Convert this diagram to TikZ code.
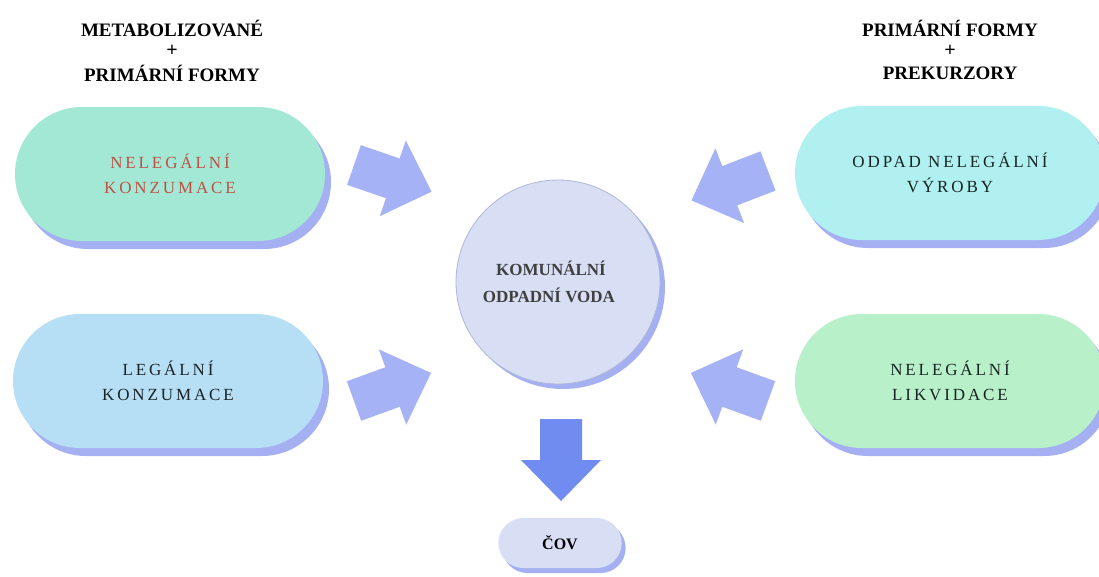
\documentclass[tikz,border=0pt]{standalone}
\usepackage{fontspec}
\setmainfont{Liberation Serif}
\usetikzlibrary{shapes.misc,shadows}
\definecolor{arrowcol}{RGB}{165,178,245}
\definecolor{downcol}{RGB}{112,140,240}
\definecolor{shadowcol}{RGB}{165,176,242}
\definecolor{pillA}{RGB}{163,232,212}
\definecolor{pillB}{RGB}{176,240,240}
\definecolor{pillC}{RGB}{182,222,245}
\definecolor{pillD}{RGB}{184,240,202}
\definecolor{circfill}{RGB}{216,223,245}
\definecolor{circline}{RGB}{175,182,215}
\definecolor{redtext}{RGB}{190,80,70}
\definecolor{darktext}{RGB}{25,35,35}
\definecolor{graytext}{RGB}{64,64,64}
\tikzset{
  pill/.style={rounded rectangle, minimum width=310pt, minimum height=134pt,
    align=center, inner sep=0pt,
    font=\fontsize{17}{25}\selectfont\addfontfeature{LetterSpace=17},
    drop shadow={shadow xshift=6pt, shadow yshift=-8pt, fill=shadowcol, opacity=1}},
  header/.style={font=\bfseries\fontsize{19}{20}\selectfont, text=black, inner sep=0pt},
  plus/.style={font=\bfseries\fontsize{20}{21}\selectfont, text=black, inner sep=0pt},
  blockarrow/.pic={\fill[pic actions] (0,-21) -- (41,-21) -- (41,-40) -- (82,0) -- (41,40) -- (41,21) -- (0,21) -- cycle;}
}
\begin{document}
\begin{tikzpicture}[x=1pt,y=-1pt]
\useasboundingbox[fill=white] (0,0) rectangle (1099,576);
% headers
\node[header] (hl1) at (172,28) {METABOLIZOVANÉ};
\node[plus] (hl2) at (172,51) {+};
\node[header] (hl3) at (172,73) {PRIMÁRNÍ FORMY};
\node[header] (hr1) at (950,28) {PRIMÁRNÍ FORMY};
\node[plus] (hr2) at (950,51) {+};
\node[header] (hr3) at (950,73) {PREKURZORY};
% pills
\node[pill, fill=pillA, text=redtext] (nk) at (170,174) {NELEGÁLNÍ\\KONZUMACE};
\node[pill, fill=pillB, text=darktext] (onv) at (950,173) {ODPAD NELEGÁLNÍ\\VÝROBY};
\node[pill, fill=pillC, text=darktext] (lk) at (168,381) {LEGÁLNÍ\\KONZUMACE};
\node[pill, fill=pillD, text=darktext] (nl) at (950,381) {NELEGÁLNÍ\\LIKVIDACE};
% centre
\node[circle, minimum size=204pt, fill=circfill, draw=circline, line width=0.8pt,
  align=center, text=graytext, font=\bfseries\fontsize{17}{27}\selectfont,
  drop shadow={shadow xshift=5pt, shadow yshift=-5pt, fill=shadowcol, opacity=1}]
  (kov) at (558,282) {KOMUNÁLNÍ\hspace*{14pt}\\ODPADNÍ VODA\hspace*{18pt}};
% arrows
\pic[fill=arrowcol, shift={(354,165)}, rotate=-19] (a1) {blockarrow};
\pic[fill=arrowcol, shift={(768,171)}, rotate=201] (a2) {blockarrow};
\pic[fill=arrowcol, shift={(354,401)}, rotate=20] (a3) {blockarrow};
\pic[fill=arrowcol, shift={(768,401)}, rotate=160] (a4) {blockarrow};
\pic[fill=downcol, shift={(561,419)}, rotate=-90] (a5) {blockarrow};
% COV
\node[rounded rectangle, minimum width=130pt, minimum height=50pt, fill=circfill,
  font=\bfseries\fontsize{16}{18}\selectfont, text=black,
  drop shadow={shadow xshift=4pt, shadow yshift=-5pt, fill=shadowcol, opacity=1}]
  (cov) at (560,543) {ČOV};
\end{tikzpicture}
\end{document}
